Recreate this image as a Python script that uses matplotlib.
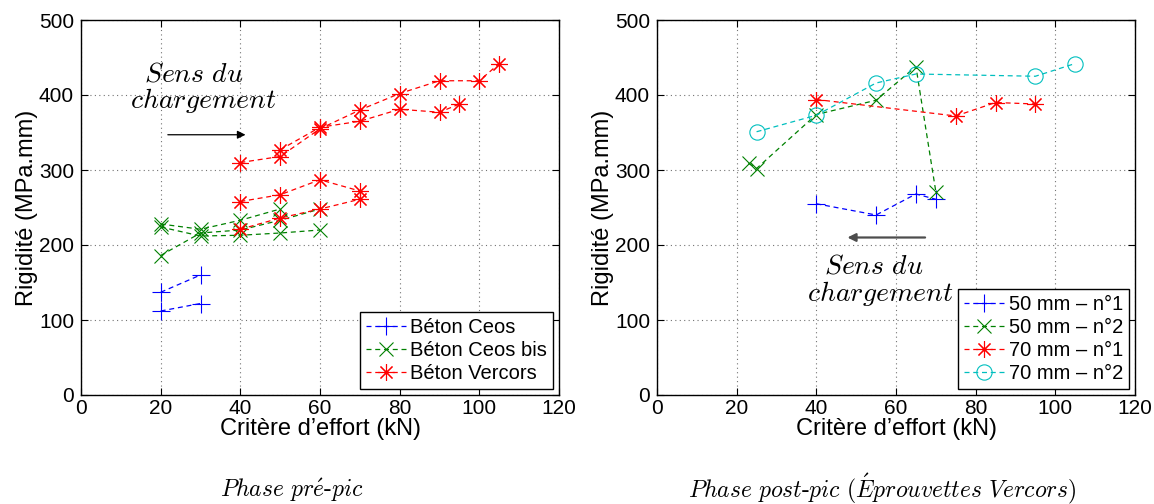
import matplotlib
matplotlib.use("Agg")
import matplotlib.pyplot as plt
import numpy as np

plt.rcParams['font.family'] = ['Liberation Sans', 'DejaVu Sans']
plt.rcParams['mathtext.fontset'] = 'cm'

## data - phase pre-pic (several loading paths per concrete)
ceos_x = [[20, 30], [20, 30]]
ceos_y = [[137, 160], [112, 122]]

ceos_bis_x = [[20, 30, 40, 50], [20, 30, 40, 50, 60], [20, 30, 40, 50, 60]]
ceos_bis_y = [[228, 221, 233, 248], [224, 212, 213, 216, 220], [186, 216, 220, 233, 248]]

vercors_x = [[40, 50, 60, 70, 80, 90, 100, 105], [50, 60, 70, 80, 90, 95],
             [40, 50, 60, 70], [40, 50, 60, 70]]
vercors_y = [[310, 318, 355, 380, 402, 419, 419, 442], [327, 357, 365, 381, 377, 388],
             [258, 267, 287, 272], [221, 236, 248, 261]]

## data - phase post-pic (Vercors specimens)
s50_1_x = [40, 55, 65, 70]
s50_1_y = [255, 240, 268, 261]
s50_2_x = [23, 25, 40, 55, 65, 70]
s50_2_y = [309, 302, 374, 393, 438, 271]
s70_1_x = [40, 75, 85, 95]
s70_1_y = [394, 372, 390, 388]
s70_2_x = [25, 40, 55, 65, 95, 105]
s70_2_y = [351, 373, 416, 428, 425, 442]

x_ticks = [0, 20, 40, 60, 80, 100, 120]
y_ticks = [0, 100, 200, 300, 400, 500]

W, H = 1154, 504
fig = plt.figure(figsize=(W / 100, H / 100), dpi=100)
ax1 = fig.add_axes([81 / W, 1 - 395 / H, 478 / W, 375 / H])
ax2 = fig.add_axes([657 / W, 1 - 395 / H, 478 / W, 375 / H])

blue = (0, 0, 1)
green = (0, 0.5, 0)
red = (1, 0, 0)
cyan = (0, 0.75, 0.75)
star = (8, 2, 0)  # matlab style asterisk
line_kw = dict(linestyle=(0, (4, 3)), linewidth=0.9, markeredgewidth=0.8)
leg_kw = dict(loc='lower right', fontsize=14.5, fancybox=False, framealpha=1,
              edgecolor='black', borderaxespad=0.3, handlelength=2.0,
              handletextpad=0.2, labelspacing=0.2, borderpad=0.3)


def style_axes(ax):
    ax.set_xlim(0, 120)
    ax.set_ylim(0, 500)
    ax.set_xticks(x_ticks)
    ax.set_yticks(y_ticks)
    ax.tick_params(direction='in', length=5, width=0.8, labelsize=15,
                   top=True, right=True)
    ax.tick_params(axis='x', pad=3)
    ax.tick_params(axis='y', pad=5)
    ax.grid(True, linestyle=(0, (1, 3)), color='0.45', linewidth=0.8)
    for s in ax.spines.values():
        s.set_linewidth(1.0)
    ax.set_xlabel('Critère d\u2019effort (kN)', fontsize=17, labelpad=0)
    ax.set_ylabel('Rigidité (MPa.mm)', fontsize=17, labelpad=1)


def plot_group(ax, xs, ys, color, marker, ms, label):
    for i in range(len(xs)):
        ax.plot(xs[i], ys[i], color=color, marker=marker, markersize=ms,
                label=label if i == 0 else None, **line_kw)


# left panel
plot_group(ax1, ceos_x, ceos_y, blue, '+', 13, 'Béton Ceos')
plot_group(ax1, ceos_bis_x, ceos_bis_y, green, 'x', 10, 'Béton Ceos bis')
plot_group(ax1, vercors_x, vercors_y, red, star, 12, 'Béton Vercors')
style_axes(ax1)
leg1 = ax1.legend(**leg_kw)
leg1.get_frame().set_linewidth(1.0)

ax1.annotate('', xy=(41.3, 347), xytext=(21.8, 347),
             arrowprops=dict(arrowstyle='-|>', color='black', lw=0.9,
                             mutation_scale=12, shrinkA=0, shrinkB=0))
ax1.text(28.2, 428, r'$Sens\ du$', fontsize=20, ha='center', va='center')
ax1.text(30.7, 393, r'$chargement$', fontsize=20, ha='center', va='center')

# right panel
ax2.plot(s50_1_x, s50_1_y, color=blue, marker='+', markersize=13, label='50 mm \u2013 n°1', **line_kw)
ax2.plot(s50_2_x, s50_2_y, color=green, marker='x', markersize=10, label='50 mm \u2013 n°2', **line_kw)
ax2.plot(s70_1_x, s70_1_y, color=red, marker=star, markersize=12, label='70 mm \u2013 n°1', **line_kw)
ax2.plot(s70_2_x, s70_2_y, color=cyan, marker='o', markersize=11, markerfacecolor='none',
         label='70 mm \u2013 n°2', **line_kw)
style_axes(ax2)
leg2 = ax2.legend(**leg_kw)
leg2.get_frame().set_linewidth(1.0)

ax2.annotate('', xy=(47.8, 210), xytext=(67.3, 210),
             arrowprops=dict(arrowstyle='-|>', color='0.3', lw=1.6,
                             mutation_scale=12, shrinkA=0, shrinkB=0))
ax2.text(54.3, 171, r'$Sens\ du$', fontsize=20, ha='center', va='center')
ax2.text(56.0, 136, r'$chargement$', fontsize=20, ha='center', va='center')

# captions under each panel
fig.text(292 / W, 1 - 497 / H, r'$Phase\ pr\acute{e}\text{-}pic$', fontsize=17,
         ha='center', va='baseline')
fig.text(882 / W, 1 - 497 / H, r'$Phase\ post\text{-}pic\ (\acute{E}prouvettes\ Vercors)$',
         fontsize=17, ha='center', va='baseline')

fig.savefig('out.png', dpi=100)
